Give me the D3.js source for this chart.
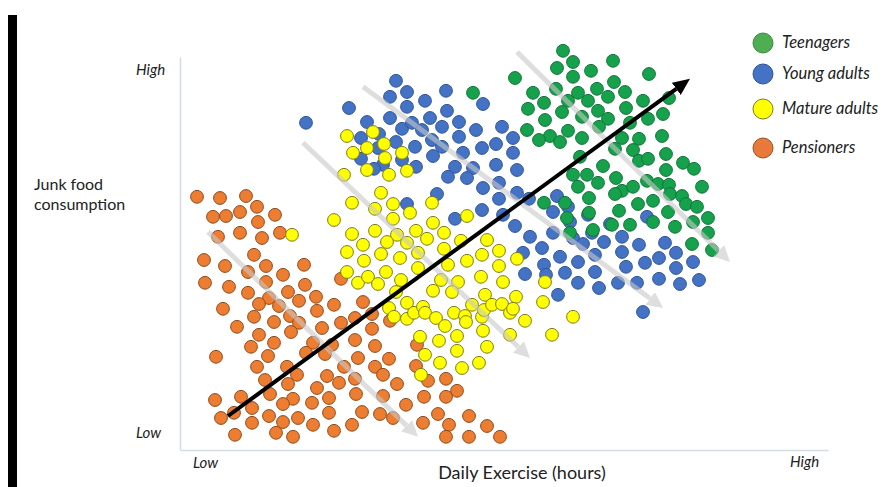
<!DOCTYPE html>
<html><head><meta charset="utf-8">
<script src="https://cdn.jsdelivr.net/npm/d3@7"></script>
<style>body{margin:0;background:#fff;} svg{display:block;}</style>
</head><body>
<svg id="chart" width="881" height="487"></svg>
<script>
// ---- DATA (exercise index 0-130, junk food index 0-100) ----
const groupNames = ["Teenagers", "Young adults", "Mature adults", "Pensioners"];
const axisEnds = ["Low", "High"];
const xTitle = "Daily Exercise (hours)";
const yTitle = ["Junk food", "consumption"];

const teenagers = [
[76.6,99.8],[78.6,97.0],[75.4,95.5],[82.2,94.8],[86.6,97.3],[93.8,94.0],[78.6,93.3],[86.8,92.0],
[75.2,90.3],[79.6,89.3],[83.4,90.3],[89.0,89.5],[72.8,86.8],[77.6,87.3],[81.6,87.3],[85.6,88.3],
[92.6,87.3],[97.8,88.0],[89.2,85.5],[76.4,84.5],[83.6,84.8],[85.6,82.8],[73.0,82.5],[80.4,83.3],
[93.6,82.8],[96.6,84.0],[90.0,81.8],[83.8,80.8],[77.6,79.8],[74.0,78.5],[76.0,77.0],[80.4,78.0],
[88.4,78.0],[91.8,77.8],[96.4,78.5],[87.0,75.3],[90.6,75.0],[97.2,74.0],[91.8,72.3],[93.6,72.8],
[80.0,73.3],[100.6,71.8],[84.6,71.0],[102.8,70.3],[78.6,68.8],[81.4,68.8],[87.2,68.0],[97.2,70.0],
[93.4,67.3],[95.6,66.5],[97.8,66.3],[104.4,65.8],[79.6,65.8],[83.6,66.8],[88.4,64.8],[87.0,64.0],
[90.6,65.8],[98.0,64.0],[100.4,63.5],[81.8,63.0],[101.2,61.5],[103.4,60.8],[77.0,61.8],[72.8,61.8],
[94.6,62.3],[91.6,61.5],[87.8,59.8],[97.6,59.5],[105.6,58.0],[102.6,57.0],[94.6,57.0],[81.8,59.3],
[77.4,58.0],[90.0,56.3],[86.4,56.3],[99.0,55.8],[105.6,54.3],[82.6,55.0],[78.0,54.3],[102.4,51.5],
[106.4,50.0],[58.6,89.3],[67.0,93.0],[70.6,89.3],[69.6,85.3],[69.4,80.0],[71.8,77.5]
];

const youngAdults = [
[25.2,81.8],[33.8,85.5],[36.2,78.0],[36.2,72.8],[43.2,92.3],[42.0,88.3],[45.4,89.5],[49.0,87.3],
[45.4,85.8],[53.2,89.8],[60.6,86.5],[37.4,82.0],[42.0,83.0],[44.4,80.3],[46.4,81.8],[50.0,83.0],
[53.4,84.8],[55.8,82.0],[52.4,80.8],[48.4,80.0],[59.2,80.0],[64.4,80.8],[39.8,79.0],[43.2,77.0],
[47.0,75.8],[50.4,77.5],[52.4,75.8],[55.8,78.3],[56.6,74.3],[60.4,75.5],[63.2,76.5],[66.6,78.0],
[39.6,75.5],[44.4,72.5],[47.2,70.8],[50.6,73.5],[40.6,71.3],[38.8,70.3],[55.0,70.8],[58.6,70.5],
[53.6,68.3],[57.4,68.0],[63.2,71.3],[66.6,74.3],[67.4,70.0],[60.6,65.5],[63.8,66.8],[51.4,64.0],
[63.8,62.8],[67.4,64.3],[45.4,61.5],[60.4,60.0],[55.0,57.8],[69.8,62.8],[64.6,58.8],[67.0,56.0],
[70.0,53.3],[75.4,63.5],[74.6,59.5],[78.0,57.0],[81.6,58.8],[74.6,54.3],[78.6,53.0],[82.4,54.3],
[80.6,51.5],[72.4,50.5],[76.0,48.3],[79.6,47.0],[72.8,46.3],[77.0,44.3],[68.6,49.3],[79.6,41.8],
[83.8,40.5],[75.6,38.8],[69.0,44.0],[73.2,43.8],[84.8,52.0],[88.4,49.5],[83.0,48.8],[83.0,44.5],
[87.6,41.8],[89.2,45.8],[91.4,41.8],[91.8,51.3],[93.0,46.8],[95.8,48.0],[95.8,42.8],[97.0,51.8],
[99.2,49.3],[99.2,45.5],[100.0,41.5],[102.6,47.0],[103.8,42.5],[92.6,34.5],[93.4,58.3],[86.0,56.5],
[88.4,53.3],[77.6,60.8]
];

const matureAdults = [
[33.4,78.5],[38.6,79.5],[34.6,74.3],[37.4,75.5],[40.8,76.5],[44.4,74.3],[41.0,73.0],[32.8,68.8],
[37.4,70.0],[41.8,68.8],[45.4,69.8],[40.2,64.3],[34.4,61.8],[42.6,61.5],[50.4,61.8],[30.8,57.5],
[39.0,60.3],[46.0,59.3],[42.6,57.8],[50.6,56.8],[57.4,58.5],[22.4,53.8],[34.4,54.0],[39.0,54.8],
[47.2,54.8],[52.8,54.3],[43.4,53.8],[36.6,51.3],[41.4,52.0],[45.4,51.8],[49.4,52.8],[56.2,52.3],
[61.4,52.5],[33.4,49.5],[40.2,49.0],[44.0,48.0],[47.6,49.3],[52.8,50.3],[60.4,48.8],[63.8,49.8],
[67.4,47.8],[36.8,47.3],[41.2,44.5],[47.6,45.5],[53.6,46.3],[57.4,47.3],[63.8,46.0],[33.4,44.5],
[35.6,41.8],[37.6,43.3],[39.6,41.5],[44.2,42.5],[52.2,42.5],[55.6,42.0],[60.2,43.3],[64.6,42.0],
[43.2,39.5],[50.6,39.8],[54.4,39.5],[61.0,38.8],[67.2,38.3],[73.0,42.0],[45.4,36.8],[41.8,35.5],
[42.8,33.3],[45.4,32.8],[46.8,34.3],[48.6,35.8],[49.0,34.3],[51.2,33.0],[53.0,31.0],[54.8,34.3],
[57.0,33.5],[57.2,32.0],[58.4,36.3],[60.4,33.3],[60.8,35.0],[62.4,36.3],[64.4,36.5],[66.0,34.3],
[66.6,35.3],[69.0,32.3],[72.6,37.0],[78.6,33.3],[74.4,28.8],[48.0,28.3],[51.8,27.3],[55.4,28.5],
[60.6,29.8],[66.0,28.8],[61.4,25.8],[55.4,24.8],[49.0,23.8],[52.0,21.8],[56.4,20.5],[59.8,21.8],
[48.2,18.8]
];

const pensioners = [
[3.4,63.3],[8.0,63.0],[13.2,63.5],[15.4,60.8],[6.6,58.3],[9.2,58.5],[12.0,59.5],[15.6,57.0],
[19.0,58.8],[7.6,53.3],[12.0,54.3],[16.4,53.0],[20.0,54.3],[4.8,47.5],[9.0,46.0],[14.8,48.8],
[17.2,46.0],[13.6,44.5],[20.6,43.8],[24.8,46.3],[5.0,41.8],[9.8,40.8],[17.2,42.0],[13.6,39.3],
[21.6,39.5],[25.0,41.3],[27.2,38.3],[17.8,38.0],[15.8,36.5],[19.8,36.0],[23.8,37.3],[30.8,36.3],
[8.6,35.3],[14.8,33.3],[18.8,32.0],[22.0,33.5],[23.8,31.8],[27.4,34.8],[32.2,31.8],[11.4,30.8],
[15.8,28.8],[22.2,29.5],[28.4,30.5],[35.0,33.0],[14.2,25.8],[18.8,26.8],[26.6,26.8],[30.4,26.3],
[7.2,23.3],[17.6,23.5],[25.2,24.3],[29.0,24.0],[15.4,20.8],[21.4,20.8],[32.8,20.8],[17.0,17.5],
[23.4,18.8],[21.6,16.5],[29.4,18.5],[31.8,16.8],[12.2,13.3],[7.0,12.5],[18.0,14.0],[22.6,12.8],
[27.4,15.5],[29.8,13.0],[20.6,11.5],[14.4,10.5],[26.4,11.8],[10.8,9.3],[8.2,8.0],[17.8,8.5],
[23.6,8.0],[29.8,9.3],[14.4,6.8],[20.6,7.0],[26.6,6.3],[11.0,3.8],[19.2,4.3],[22.6,3.3],
[30.8,4.8],[34.4,6.3],[32.2,42.8],[36.6,37.0],[38.4,34.0],[42.0,32.3],[38.4,30.3],[47.4,26.3],
[39.0,26.0],[41.8,22.8],[39.0,20.8],[47.2,21.0],[40.6,18.8],[43.4,16.5],[49.6,17.3],[53.2,17.8],
[55.4,14.8],[40.6,13.5],[48.8,13.3],[53.2,13.3],[45.2,11.3],[36.4,9.5],[40.0,9.0],[42.6,8.0],
[51.6,9.0],[57.8,8.5],[48.6,6.8],[53.8,6.3],[61.4,6.0],[53.2,3.3],[57.8,3.3],[64.0,3.3],
[35.0,27.5],[35.6,23.0],[35.0,17.8],[35.2,14.0]
];

// within-group trends [x1, y1, x2, y2] (pensioners, mature, young, teen)
const groupTrends = [
[5.6,54.5,47.6,3.3],
[24.6,76.8,70.0,23.0],
[36.6,90.8,96.6,35.5],
[67.4,99.5,110.0,47.0]
];
// overall trend [x1, y1, x2, y2]
const overallTrend = [9.6,8.5,102.0,92.8];

// ---- DRAWING ----
const svg = d3.select("#chart");
const x = d3.scaleLinear().domain([0,130]).range([180,830]);
const y = d3.scaleLinear().domain([0,100]).range([450,50]);
const font = "Lato, 'Open Sans', sans-serif";

svg.append("rect").attr("x",8).attr("y",15).attr("width",9).attr("height",472).attr("fill","#000");

// axes (lines only)
const xAxisScale = x.copy().domain([0,129.6]).range([x(0), x(129.6)]);
const yAxisScale = y.copy().domain([0,98.25]).range([y(0), y(98.25)]);
svg.append("g").attr("transform",`translate(0,${y(0)})`)
  .call(d3.axisBottom(xAxisScale).tickValues([]).tickSizeOuter(0))
  .call(g=>g.select(".domain").attr("stroke","#d4dce4").attr("stroke-width",1.5));
svg.append("g").attr("transform",`translate(${x(0)},0)`)
  .call(d3.axisLeft(yAxisScale).tickValues([]).tickSizeOuter(0))
  .call(g=>g.select(".domain").attr("stroke","#d4dce4").attr("stroke-width",1.5));

// axis end labels
const lab = (t,px,py,opts={}) => svg.append("text").attr("x",px).attr("y",py).text(t)
  .attr("font-family",font).attr("font-size",opts.size||15).attr("fill","#222")
  .attr("font-style",opts.italic?"italic":"normal").attr("text-anchor",opts.anchor||"start");
lab(axisEnds[1],136,75,{italic:true});
lab(axisEnds[0],136,438,{italic:true});
lab(axisEnds[0],193,468,{italic:true});
lab(axisEnds[1],790,467,{italic:true});
lab(xTitle,522,479,{size:18,anchor:"middle"});
lab(yTitle[0],34,190,{size:16});
lab(yTitle[1],34,210,{size:16});

// points
const series = [
  {data:youngAdults, fill:"#4472c4", stroke:"#2f5597"},
  {data:teenagers, fill:"#16a24c", stroke:"#0f7336"},
  {data:pensioners, fill:"#ed7d31", stroke:"#8c4a1d"},
  {data:matureAdults, fill:"#ffff00", stroke:"#7d7d18"}
];
series.forEach(s=>{
  svg.append("g").selectAll("circle").data(s.data).join("circle")
    .attr("cx",d=>x(d[0])).attr("cy",d=>y(d[1])).attr("r",6.4)
    .attr("fill",s.fill).attr("stroke",s.stroke).attr("stroke-width",1);
});

// arrows
const defs = svg.append("defs");
function addHead(id,color,len,wid){
  defs.append("marker").attr("id",id).attr("viewBox",`0 0 ${len} ${wid}`)
    .attr("refX",0).attr("refY",wid/2).attr("markerWidth",len).attr("markerHeight",wid)
    .attr("markerUnits","userSpaceOnUse").attr("orient","auto")
    .append("path").attr("d",`M0,0L${len},${wid/2}L0,${wid}Z`).attr("fill",color);
}
addHead("headGray","#c9c9c9",16,16);
addHead("headBlack","#000",17,15);
function arrow(g,t,color,width,head,len){
  const x1=x(t[0]),y1=y(t[1]),x2=x(t[2]),y2=y(t[3]);
  const L=Math.hypot(x2-x1,y2-y1),ux=(x2-x1)/L,uy=(y2-y1)/L;
  g.append("line").attr("x1",x1).attr("y1",y1).attr("x2",x2-ux*len).attr("y2",y2-uy*len)
    .attr("stroke",color).attr("stroke-width",width).attr("marker-end",`url(#${head})`);
}
const grayG = svg.append("g").attr("opacity",0.6);
groupTrends.forEach(t=>arrow(grayG,t,"#c9c9c9",5,"headGray",16));
arrow(svg.append("g"),overallTrend,"#000",4,"headBlack",17);

// legend
const legendColors = ["#4fae52","#4472c4","#ffff00","#e8793a"];
const legendStroke = ["#3b8a3e","#2f5597","#7d7d18","#9a5022"];
const legendRowY = [43,74,109,148];
groupNames.forEach((n,i)=>{
  svg.append("circle").attr("cx",763).attr("cy",legendRowY[i]).attr("r",10)
    .attr("fill",legendColors[i]).attr("stroke",legendStroke[i]).attr("stroke-width",1);
  svg.append("text").attr("x",782).attr("y",legendRowY[i]+5).text(n)
    .attr("font-family",font).attr("font-size",16.5).attr("font-style","italic").attr("fill","#222");
});
</script>
</body></html>
